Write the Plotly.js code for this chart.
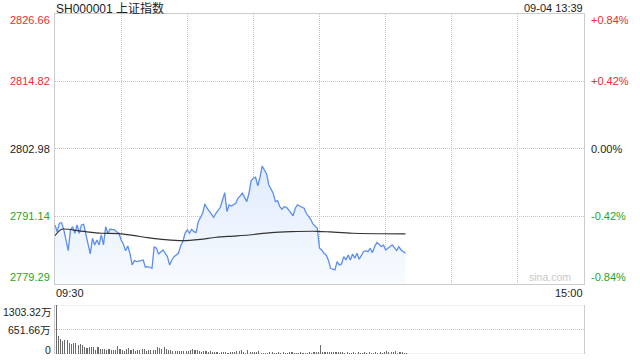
<!DOCTYPE html>
<html>
<head>
<meta charset="utf-8">
<script src="https://cdn.plot.ly/plotly-3.0.1.min.js"></script>
<style>html,body{margin:0;padding:0;background:#fff;}#chart{width:640px;height:360px;}</style>
</head>
<body>
<div id="chart"></div>
<script>
// ---- data (minute index from 09:30, 11:30/13:00 = 120) ----
const priceMinutes = [0,1,2,3,4,6,7,8,9,10,11,12,13,14,15,16,17,18,19,20,21,22,23,24,25,26,27,28,29,30,31,32,33,34,35,36,37,39,40,41,42,43,44,45,46,47,48,49,51,52,53,54,56,57,58,59,60,61,62,63,64,65,67,68,69,70,72,73,75,77,78,79,80,82,83,84,85,87,88,89,90,91,92,93,94,95,96,97,98,99,100,101,102,103,104,105,106,108,109,110,111,113,114,116,117,119,120,121,122,123,124,125,126,127,128,129,130,131,132,133,134,135,136,137,138,140,141,142,143,144,145,146,147,148,149,150,151,152,153,155,156,157,159];
const priceValues = [2789.65,2788.47,2789.95,2790.05,2788.77,2785.14,2788.77,2789.35,2788.19,2789.65,2788.19,2789.65,2789.77,2788.19,2786.44,2784.56,2787.32,2786.14,2787.02,2786.14,2787.89,2786.14,2789.35,2788.19,2788.89,2788.77,2788.77,2788.47,2788.19,2787.02,2786.32,2785.14,2785.96,2784.68,2782.63,2783.39,2783.21,2783.39,2783.51,2782.23,2782.33,2782.23,2782.05,2785.84,2785.56,2784.56,2784.96,2785.26,2784.09,2782.63,2783.51,2784.09,2784.68,2785.96,2786.72,2788.19,2788.77,2788.19,2788.89,2788.47,2788.30,2790.23,2791.70,2793.33,2792.58,2791.98,2791.00,2791.70,2792.75,2795.31,2791.98,2793.16,2792.98,2793.45,2794.33,2794.74,2795.21,2793.74,2795.21,2797.42,2797.84,2798.02,2796.49,2798.02,2800.00,2799.30,2798.59,2796.66,2795.79,2795.21,2793.74,2793.91,2792.86,2792.40,2792.86,2792.75,2792.28,2791.23,2792.58,2793.16,2792.98,2792.58,2791.70,2790.65,2789.82,2789.07,2785.56,2785.26,2784.68,2784.39,2783.51,2782.05,2781.88,2781.75,2783.21,2782.63,2782.81,2784.09,2783.51,2784.39,2783.51,2784.56,2783.81,2784.68,2783.63,2784.96,2785.14,2784.96,2785.56,2784.79,2785.84,2786.54,2786.32,2785.84,2786.14,2785.26,2785.56,2785.84,2786.14,2785.14,2785.84,2785.26,2784.68];
const avgMinutes = [0,3,11,21,29,36,42,50,58,66,73,81,88,98,107,119,125,135,159];
const avgValues = [2787.77,2788.89,2788.60,2788.19,2788.13,2787.77,2787.42,2787.07,2786.89,2787.13,2787.49,2787.70,2787.89,2788.30,2788.47,2788.54,2788.42,2788.19,2788.07];
const volumes = [1303,490,400,355,370,370,285,265,290,290,240,265,250,195,150,180,180,185,105,180,125,135,135,105,125,100,105,105,215,135,105,90,135,160,105,140,90,105,105,125,140,90,105,105,100,105,185,150,140,185,125,115,105,90,90,80,80,80,80,80,90,105,135,100,115,70,55,70,90,45,80,60,45,55,35,45,45,55,35,45,60,45,80,90,115,60,35,100,60,55,60,45,80,35,35,35,35,45,55,35,40,45,35,55,40,35,45,50,35,40,35,45,35,35,40,45,35,45,55,50,240,60,50,60,60,45,60,50,60,45,50,40,45,40,40,45,40,45,40,40,45,40,45,40,40,45,40,45,40,45,70,55,60,55,70,40,45,45,40,20];
const leftPriceLabels = ['2826.66','2814.82','2802.98','2791.14','2779.29'];
const rightPctLabels = ['+0.84%','+0.42%','0.00%','-0.42%','-0.84%'];
const volTickLabels = ['1303.32万','651.66万','0'];
const volTickValues = [1303.32,651.66,0];
const timeLabels = ['09:30','15:00'];
const titleText = 'SH000001 上证指数';
const stampText = '09-04 13:39';

// ---- styles ----
const RED = '#ee2a2a', GREEN = '#25a525', BLACK = '#222';
const FONT = 'Liberation Sans, Arial, Noto Sans CJK SC, sans-serif';
const GRID = '#c4c4c4', BORDER = '#cccccc', DASH = '1px,1px';
const priceVals = leftPriceLabels.map(Number);
const pMin = priceVals[4], pMax = priceVals[0];
const labelColors = [RED, RED, BLACK, GREEN, GREEN];
const edgeShift = [-6, 0, 0, 0, 7];

const traces = [
  {x: priceMinutes, y: priceValues, type: 'scatter', mode: 'lines',
   line: {color: '#5b8eee', width: 1.3}, fill: 'tozeroy',
   fillgradient: {type: 'vertical', start: pMin, stop: 2800,
     colorscale: [[0, 'rgba(248,251,255,1)'], [1, 'rgba(224,235,252,1)']]},
   xaxis: 'x', yaxis: 'y', hoverinfo: 'skip'},
  {x: avgMinutes, y: avgValues, type: 'scatter', mode: 'lines',
   line: {color: '#333', width: 1.2, shape: 'spline', smoothing: 0.8},
   xaxis: 'x', yaxis: 'y', hoverinfo: 'skip'},
  {x: volumes.map((v, i) => i), y: volumes, type: 'bar', width: 0.5,
   marker: {color: '#6a6a6a', line: {width: 0}}, xaxis: 'x2', yaxis: 'y2', hoverinfo: 'skip'}
];

const annotations = [];
leftPriceLabels.forEach((t, k) => {
  annotations.push({text: t, xref: 'paper', x: 0, xanchor: 'right', xshift: -3,
    yref: 'y', y: priceVals[k], yanchor: 'middle', yshift: edgeShift[k], showarrow: false,
    font: {family: FONT, size: 11, color: labelColors[k]}});
  annotations.push({text: rightPctLabels[k], xref: 'paper', x: 1, xanchor: 'left', xshift: 5,
    yref: 'y', y: priceVals[k], yanchor: 'middle', yshift: edgeShift[k], showarrow: false,
    font: {family: FONT, size: 11, color: labelColors[k]}});
});
const volShift = [-7, 0, 4];
volTickLabels.forEach((t, k) => {
  annotations.push({text: t, xref: 'paper', x: 0, xanchor: 'right', xshift: -2,
    yref: 'y2', y: volTickValues[k], yanchor: 'middle', yshift: volShift[k], showarrow: false,
    font: {family: FONT, size: 10.5, color: BLACK}});
});
annotations.push({text: timeLabels[0], xref: 'paper', x: 0, xanchor: 'left', xshift: -1,
  yref: 'paper', y: (354 - 293) / 340, yanchor: 'middle', showarrow: false,
  font: {family: FONT, size: 11, color: BLACK}});
annotations.push({text: timeLabels[1], xref: 'paper', x: 1, xanchor: 'right', xshift: 1,
  yref: 'paper', y: (354 - 293) / 340, yanchor: 'middle', showarrow: false,
  font: {family: FONT, size: 11, color: BLACK}});
annotations.push({text: titleText, xref: 'paper', x: 0, xanchor: 'left', xshift: -1,
  yref: 'paper', y: (354 - 8) / 340, yanchor: 'middle', showarrow: false,
  font: {family: FONT, size: 12, color: BLACK}});
annotations.push({text: stampText, xref: 'paper', x: 1, xanchor: 'right', xshift: 1,
  yref: 'paper', y: (354 - 8) / 340, yanchor: 'middle', showarrow: false,
  font: {family: FONT, size: 11, color: BLACK}});
annotations.push({text: 'sina.com', xref: 'paper', x: (573 - 55) / 529, xanchor: 'right',
  yref: 'y', y: pMin, yanchor: 'middle', yshift: 7, showarrow: false,
  font: {family: FONT, size: 10.5, color: '#c8c8c8'}});

const layout = {
  width: 640, height: 360,
  margin: {l: 55, r: 56, t: 14, b: 6, pad: 0},
  paper_bgcolor: '#fff', plot_bgcolor: '#fff',
  showlegend: false, bargap: 0,
  xaxis: {domain: [0, 1], anchor: 'y', range: [0, 240], tickvals: [30,60,90,120,150,180,210],
    showgrid: true, gridcolor: GRID, griddash: DASH, gridwidth: 1,
    showticklabels: false, ticks: '', zeroline: false,
    showline: true, mirror: true, linecolor: BORDER, linewidth: 1, fixedrange: true},
  yaxis: {domain: [70 / 340, 1], anchor: 'x', range: [pMin, pMax], tickvals: priceVals.slice(1, 4),
    showgrid: true, gridcolor: GRID, griddash: DASH, gridwidth: 1,
    showticklabels: false, ticks: '', zeroline: false,
    showline: true, mirror: true, linecolor: BORDER, linewidth: 1, fixedrange: true},
  xaxis2: {domain: [0, 1], anchor: 'y2', range: [-0.5, 239.5], showgrid: false,
    showticklabels: false, ticks: '', zeroline: false, showline: false, fixedrange: true},
  yaxis2: {domain: [0, 49 / 340], anchor: 'x2', range: [0, 1303.32], tickvals: [651.66],
    showgrid: true, gridcolor: GRID, griddash: DASH, gridwidth: 1,
    showticklabels: false, ticks: '', zeroline: false,
    showline: true, mirror: true, linecolor: BORDER, linewidth: 1, fixedrange: true},
  shapes: [
    {type: 'line', xref: 'paper', x0: 0, x1: 1, yref: 'y2', y0: 1303.32, y1: 1303.32,
     line: {color: GRID, width: 1, dash: DASH}, layer: 'below'},
    {type: 'line', xref: 'paper', x0: 0, x1: 1, yref: 'y2', y0: 0, y1: 0,
     line: {color: GRID, width: 1, dash: DASH}, layer: 'below'}
  ],
  annotations: annotations
};

Plotly.newPlot('chart', traces, layout, {staticPlot: true, displayModeBar: false});
</script>
</body>
</html>
